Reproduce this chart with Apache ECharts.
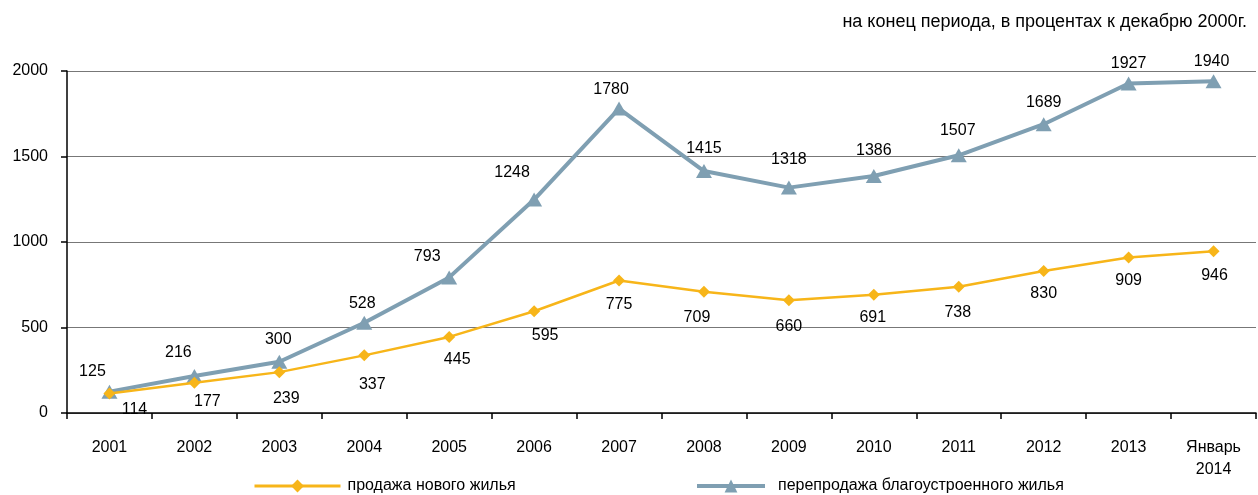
<!DOCTYPE html>
<html><head><meta charset="utf-8">
<script src="https://cdn.jsdelivr.net/npm/echarts@6/dist/echarts.min.js"></script>
<style>html,body{margin:0;padding:0;background:#fff}#c{width:1258px;height:495px}</style>
</head><body><div id="c"></div>
<script>
const categories = ['2001','2002','2003','2004','2005','2006','2007','2008','2009','2010','2011','2012','2013','Январь\n2014'];
const newHousing = [114,177,239,337,445,595,775,709,660,691,738,830,909,946];
const resale = [125,216,300,528,793,1248,1780,1415,1318,1386,1507,1689,1927,1940];
const seriesNames = ['продажа нового жилья','перепродажа благоустроенного жилья'];
const titleText = 'на конец периода, в процентах к декабрю 2000г.';
const yTicks = [0,500,1000,1500,2000];
// label layout nudges (pixels), not data
const resaleLabelDx = [-17,-16,-1,-2,-22,-22,-8,0,0,0,-1,0,0,-2];
const resaleLabelDy = [2,-1,0,3,1,-5,3,0,-6,-3,-3,0,2,2];
const newLabelDx = [25,13,7,8,8,11,0,-7,0,-1,-1,0,0,1];
const newLabelDy = [-10,-7,0,3,-3,-2,-2,0,0,-3,0,-3,-3,-2];

const font = 'Liberation Sans, Arial, sans-serif';
const fs = 16;
const orange = '#F7B519', blue = '#7F9FB2';
const chart = echarts.init(document.getElementById('c'));
const legendBase = {
  top: 478, padding: 0, itemHeight: 16,
  textStyle: {fontFamily: font, fontSize: fs, color: '#000'}
};
chart.setOption({
  animation: false,
  backgroundColor: '#fff',
  textStyle: {fontFamily: font},
  title: {text: titleText, right: 6, top: 8, textStyle: {fontFamily: font, fontSize: 18, fontWeight: 'normal', color: '#000'}},
  legend: [
    Object.assign({}, legendBase, {left: 253, itemWidth: 86, itemGap: 0, data: [seriesNames[0]],
      lineStyle: {width: 3, color: orange},
      textStyle: Object.assign({}, legendBase.textStyle, {padding: [6,0,0,2]})}),
    Object.assign({}, legendBase, {left: 695, itemWidth: 68, itemGap: 0, data: [seriesNames[1]],
      lineStyle: {width: 4, color: blue},
      textStyle: Object.assign({}, legendBase.textStyle, {padding: [6,0,0,8]})})
  ],
  grid: {left: 67, right: 2, top: 71, bottom: 82, containLabel: false},
  xAxis: {
    type: 'category', data: categories, boundaryGap: true,
    axisLine: {lineStyle: {color: '#000', width: 1.5}},
    axisTick: {show: true, inside: false, length: 6, lineStyle: {color: '#000', width: 1.5}},
    axisLabel: {color: '#000', fontSize: fs, fontFamily: font, margin: 24, lineHeight: 22, interval: 0}
  },
  yAxis: {
    type: 'value', min: yTicks[0], max: yTicks[yTicks.length-1], interval: 500,
    axisLine: {show: true, lineStyle: {color: '#000', width: 1.5}},
    axisTick: {show: true, length: 6, lineStyle: {color: '#000', width: 1.5}},
    axisLabel: {color: '#000', fontSize: fs, fontFamily: font, margin: 19, formatter: v => String(v)},
    splitLine: {lineStyle: {color: '#777', width: 1.2}}
  },
  series: [
    {
      name: seriesNames[0], type: 'line',
      data: newHousing.map((v, i) => ({value: v, label: {offset: [newLabelDx[i], newLabelDy[i]]}})),
      symbol: 'diamond', symbolSize: 12,
      lineStyle: {color: orange, width: 2.5},
      itemStyle: {color: orange},
      label: {show: true, position: 'bottom', distance: 12, color: '#000', fontSize: fs, fontFamily: font},
      z: 3
    },
    {
      name: seriesNames[1], type: 'line',
      data: resale.map((v, i) => ({value: v, label: {offset: [resaleLabelDx[i], resaleLabelDy[i]]}})),
      symbol: 'triangle', symbolSize: [16, 14],
      lineStyle: {color: blue, width: 4},
      itemStyle: {color: blue},
      label: {show: true, position: 'top', distance: 7, color: '#000', fontSize: fs, fontFamily: font},
      z: 2
    }
  ]
});
</script></body></html>
